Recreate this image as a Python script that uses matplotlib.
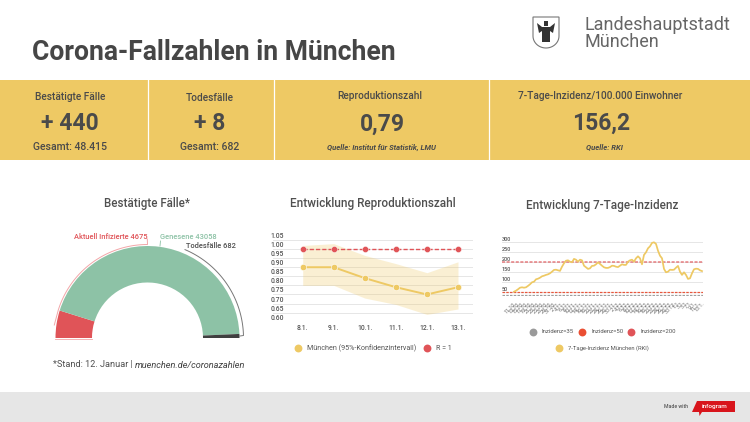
import numpy as np
import matplotlib
matplotlib.use("Agg")
import matplotlib.pyplot as plt
from matplotlib.patches import Wedge, Rectangle, Polygon

plt.rcParams['font.family'] = ['Roboto', 'DejaVu Sans']

W, H = 750, 422
# ---------- data ----------
gauge_labels = ["Aktuell Infizierte", "Genesene", "Todesfälle"]
gauge_values = [4675, 43058, 682]

r_days = ["8.1.", "9.1.", "10.1.", "11.1.", "12.1.", "13.1."]
r_values = [0.90, 0.90, 0.84, 0.79, 0.75, 0.79]
r_upper = [1.02, 1.03, 0.965, 0.92, 0.87, 0.93]
r_lower = [0.80, 0.80, 0.73, 0.695, 0.64, 0.67]
r_one = [1, 1, 1, 1, 1, 1]
r_ticks = [0.60, 0.65, 0.70, 0.75, 0.80, 0.85, 0.90, 0.95, 1.00, 1.05]

incidence = [53, 58, 65, 73, 75, 73, 75, 82, 90, 100, 103, 115, 118, 123, 130, 133, 137, 140,
             145, 153, 162, 163, 160, 157, 178, 195, 208, 210, 203, 200, 217, 213, 203, 213,
             210, 183, 175, 167, 170, 182, 183, 190, 200, 192, 183, 175, 172, 172, 176, 183,
             182, 178, 176, 183, 190, 187, 187, 203, 210, 213, 203, 220, 230, 220, 190, 237,
             250, 270, 280, 297, 300, 292, 258, 233, 220, 167, 150, 153, 163, 162, 163, 173,
             182, 153, 137, 150, 137, 117, 120, 145, 165, 168, 167, 160, 156]
inc_ticks = [50, 100, 150, 200, 250, 300]
inc_date_labels = ["11.10.", "13.10.", "15.10.", "17.10.", "19.10.", "21.10.", "23.10.", "25.10.",
                   "27.10.", "29.10.", "31.10.", "2.11.", "4.11.", "6.11.", "8.11.", "10.11.",
                   "12.11.", "14.11.", "16.11.", "18.11.", "20.11.", "22.11.", "24.11.", "26.11.",
                   "28.11.", "30.11.", "2.12.", "4.12.", "6.12.", "8.12.", "10.12.", "12.12.",
                   "14.12.", "16.12.", "18.12.", "20.12.", "22.12.", "24.12.", "26.12.", "28.12.",
                   "30.12.", "1.1.", "3.1.", "5.1.", "7.1.", "9.1.", "11.1.", "13.1."]
inc_levels = {"Inzidenz=35": 35, "Inzidenz=50": 50, "Inzidenz=200": 200}

# ---------- colours ----------
YEL = "#EEC964"
TXT = "#4A4A4A"
GRN = "#8DC2A6"
RED = "#E05458"
ORG = "#EA4F33"
GRY = "#9A9A9A"
GRID = "#E6E6E6"

fig = plt.figure(figsize=(7.5, 4.22), dpi=100, facecolor="white")


def px_axes(x0, y0, x1, y1, **kw):
    return fig.add_axes([x0 / W, 1 - y1 / H, (x1 - x0) / W, (y1 - y0) / H], **kw)


bg = px_axes(0, 0, W, H)
bg.set_xlim(0, W)
bg.set_ylim(H, 0)
bg.axis("off")


def T(x, y, s, size, color=TXT, ha="center", weight="normal", style="normal", ax=bg):
    return ax.text(x, y, s, fontsize=size, color=color, ha=ha, va="center", fontweight=weight, fontstyle=style)


# ---------- header and panels ----------
T(32, 53, "Corona-Fallzahlen in München", 19.1, ha="left", weight="bold", color="#464646")
bg.add_patch(Rectangle((0, 80), W, 80, fc=YEL, ec="none"))
for x in (147.5, 273.5, 489):
    bg.plot([x, x], [80, 160], color="white", lw=0.9)

panels = [
    (70, "Bestätigte Fälle", 97.5, "+ 440", "Gesamt: 48.415"),
    (210, "Todesfälle", 98, "+ 8", "Gesamt: 682"),
]
for cx, head, hy, big, sub in panels:
    T(cx, hy, head, 7.3, weight="medium")
    T(cx, 123.5, big, 16.5, weight="bold")
    T(cx, 146.5, sub, 7.6, weight="medium")

T(380, 96, "Reproduktionszahl", 7.3, weight="medium")
T(382, 124, "0,79", 16.5, weight="bold")
T(381, 147, "Quelle: Institut für Statistik, LMU", 5.5, weight="bold", style="italic")
T(600, 96, "7-Tage-Inzidenz/100.000 Einwohner", 7.3, weight="medium")
T(601, 123.5, "156,2", 16.5, weight="bold")
T(604, 147, "Quelle: RKI", 5.5, weight="bold", style="italic")

# ---------- logo ----------
shield_t = np.linspace(0, np.pi, 30)
shield = [(533, 17), (559, 17), (559, 36)] + [(546 + 13 * np.cos(t), 36 + 12 * np.sin(t)) for t in shield_t] + [(533, 17)]
bg.add_patch(Polygon(shield, closed=True, fc="white", ec="#777777", lw=0.8))
bg.add_patch(Polygon([(542, 27), (550, 27), (550, 42), (542, 42)], closed=True, fc="#333333", ec="none"))
bg.add_patch(Polygon([(537, 23), (542, 27), (550, 27), (555, 23), (553, 33), (550, 31), (542, 31), (539, 33)],
                     closed=True, fc="#333333", ec="none"))
bg.add_patch(Rectangle((544, 21), 4, 5, fc="#333333", ec="none"))
T(584, 25, "Landeshauptstadt", 13.0, ha="left", color="#666666")
T(584, 42, "München", 13.0, ha="left", color="#666666")

# ---------- gauge ----------
CX, CY, RO, RI = 147.5, 338, 92, 55.5
T(147, 203, "Bestätigte Fälle*", 8.3, weight="medium", color="#505050")
gx = px_axes(47, 232, 247, 342)
gx.set_xlim(47 - CX, 247 - CX)
gx.set_ylim(CY - 342, CY - 232)
gx.axis("off")
angle = 180.0
total = sum(gauge_values)
for val, col in zip(gauge_values, [RED, GRN, "#404040"]):
    sweep = 180.0 * val / total
    gx.add_patch(Wedge((0, 0), RO, angle - sweep, angle, width=RO - RI, fc=col, ec="none"))
    angle -= sweep


def arc(R, a0, a1):
    a = np.radians(np.linspace(a0, a1, 60))
    return CX + R * np.cos(a), CY - R * np.sin(a)


ax_, ay_ = arc(93.5, 162.5, 90)
bg.plot(np.r_[54.3, ax_, 147.3], np.r_[325, ay_, 239], color="#F2A6A8", lw=0.7)
bg.plot([55, 92], [338.5, 338.5], color="#F2A6A8", lw=0.6)
bg.plot([160, 160.5], [246, 241], color=GRN, lw=0.6)
ax_, ay_ = arc(96, 67, 1.5)
bg.plot(np.r_[ax_, 240], np.r_[ay_, 336], color="#777777", lw=0.7)
T(147, 237, f"{gauge_labels[0]} {gauge_values[0]}", 5.4, color=RED, ha="right", weight="medium")
T(160, 237, f"{gauge_labels[1]} {gauge_values[1]}", 5.4, color=GRN, ha="left", weight="medium")
T(186, 246, f"{gauge_labels[2]} {gauge_values[2]}", 5.4, color="#505050", ha="left", weight="medium")
stand = T(53, 365, "*Stand: 12. Januar |", 6.6, ha="left", color="#505050")
fig.canvas.draw()
stand_end = bg.transData.inverted().transform(stand.get_window_extent().get_points())[1, 0]
T(stand_end + 2, 365, "muenchen.de/coronazahlen", 6.6, ha="left", style="italic", color="#404040")

# ---------- reproduction number ----------
T(372.5, 204, "Entwicklung Reproduktionszahl", 8.5, weight="medium", color="#505050")
rx = px_axes(273, 240, 473, 321.7)
xs = np.arange(len(r_days))
rx.set_xlim(-0.956, 5.483)
rx.set_ylim(0.60, 1.05)
rx.fill_between(xs, r_lower, r_upper, color=YEL, alpha=0.28, lw=0, clip_on=False)
rx.plot(xs, r_values, color=YEL, lw=1.4, marker="o", ms=4.6, mec="white", mew=0.4, clip_on=False, zorder=3)
rx.plot(xs, r_one, color=RED, lw=1.0, ls=(0, (3, 1.5)), marker="o", ms=4.4, mec="white", mew=0.3, clip_on=False, zorder=3)
rx.set_yticks(r_ticks)
rx.set_yticklabels([f"{v:.2f}" for v in r_ticks], fontsize=4.9, color="#555555", fontweight="medium")
rx.set_xticks(xs)
rx.set_xticklabels(r_days, fontsize=4.9, color="#555555", fontweight="medium")
rx.tick_params(axis="x", length=0, pad=1.6)
rx.tick_params(axis="y", length=0, pad=1.5)
for lab in rx.get_yticklabels():
    lab.set_ha("left")
    lab.set_va("bottom")
rx.grid(axis="y", color=GRID, lw=0.7)
rx.set_axisbelow(True)
for s in rx.spines.values():
    s.set_visible(False)
rx.patch.set_alpha(0)

bg.scatter([297.7], [348], s=32, color=YEL, lw=0)
T(307, 348, "München (95%-Konfidenzintervall)", 5.1, ha="left", color="#555555")
bg.scatter([426.7], [348], s=32, color=RED, lw=0)
T(436, 348, "R = 1", 5.1, ha="left", color="#555555")

# ---------- incidence ----------
T(602.5, 205, "Entwicklung 7-Tage-Inzidenz", 8.5, weight="medium", color="#505050")
ix = px_axes(502, 242.3, 703, 296.3)
d = np.arange(len(incidence))
ix.set_xlim(-6, 94.5)
ix.set_ylim(30, 300)
ix.plot(d, incidence, color=YEL, lw=1.25, zorder=4, clip_on=False, solid_joinstyle="round")
for (name, lev), col in zip(inc_levels.items(), [GRY, ORG, RED]):
    ix.axhline(lev, color=col, lw=0.9 if lev != 200 else 1.1, ls=(0, (2, 1)), alpha=0.95 if lev != 200 else 0.75, zorder=3)
ix.set_yticks(inc_ticks)
ix.set_yticklabels([str(v) for v in inc_ticks], fontsize=4.0, color="#555555", fontweight="medium")
ix.set_xticks(np.arange(len(inc_date_labels)) * 2)
ix.set_xticklabels(inc_date_labels, fontsize=3.9, color="#707070", rotation=45, ha="right",
                   rotation_mode="anchor")
ix.tick_params(axis="x", length=0, pad=3.0)
ix.tick_params(axis="y", length=0, pad=0)
for lab in ix.get_yticklabels():
    lab.set_ha("left")
    lab.set_va("bottom")
ix.grid(axis="y", color=GRID, lw=0.7)
ix.set_axisbelow(True)
for s in ix.spines.values():
    s.set_visible(False)
ix.patch.set_alpha(0)

for x, col, name in zip((532.7, 582, 631), (GRY, ORG, RED), inc_levels):
    bg.scatter([x], [331.7], s=32, color=col, lw=0)
    T(x + 9.3, 331.7, name, 4.3, ha="left", color="#555555")
bg.scatter([559], [348], s=32, color=YEL, lw=0)
T(568, 348, "7-Tage-Inzidenz München (RKI)", 4.2, ha="left", color="#555555")

# ---------- footer ----------
bg.add_patch(Rectangle((0, 392), W, 30, fc="#E6E6E6", ec="none"))
T(676, 406, "Made with", 3.7, color="#555555", weight="medium")
bg.add_patch(Polygon([(697, 401), (735, 401), (735, 412), (702, 412), (699.5, 416), (699, 412), (692, 412)],
                     closed=True, fc="#D8151C", ec="none"))
T(715, 406.5, "infogram", 4.6, color="white", weight="medium")

fig.savefig("out.png", dpi=100, facecolor="white")
